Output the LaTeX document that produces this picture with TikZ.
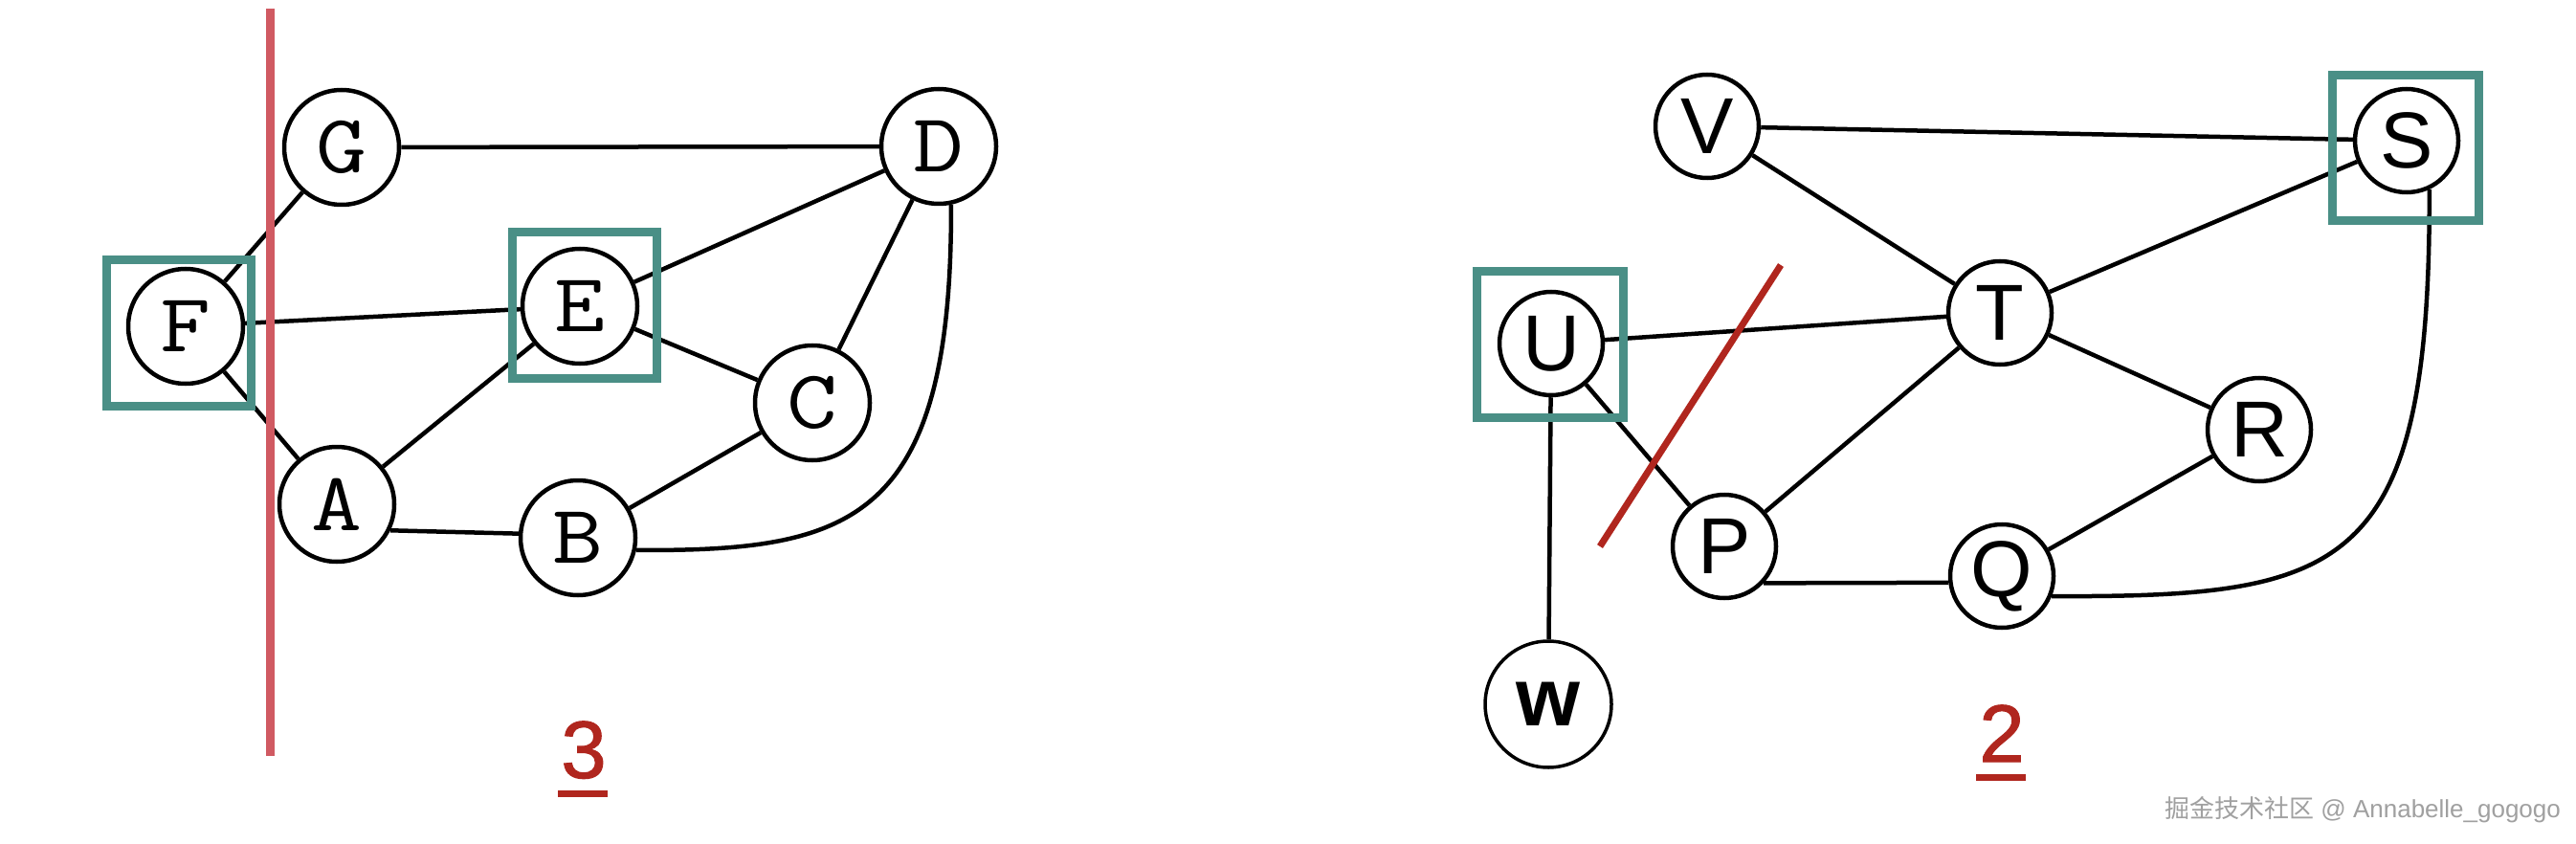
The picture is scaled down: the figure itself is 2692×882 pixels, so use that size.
\documentclass[tikz,border=0pt]{standalone}
\usepackage{fontspec}
\usepackage{graphicx}
\setmainfont{Liberation Sans}
\newfontfamily\cjk{Noto Sans CJK SC}
\newfontfamily\numfont[FakeBold=1.2]{Liberation Sans}
\newcommand{\wideletter}[1]{\scalebox{1.18}[1]{#1}}
\definecolor{teal}{HTML}{4A8F86}
\definecolor{cutpink}{HTML}{D05A62}
\definecolor{cutred}{HTML}{B0261E}
\definecolor{wmgray}{HTML}{A0A0A0}
\tikzset{
  lnode/.style={circle, draw=black, line width=4.5pt, fill=white, inner sep=0pt,
    minimum size=120pt, font=\ttfamily\fontsize{87}{87}\selectfont},
  rnode/.style={circle, draw=black, line width=4.5pt, fill=white, inner sep=0pt,
    minimum size=108pt, font=\fontsize{83}{83}\selectfont},
  edge/.style={draw=black, line width=4.5pt},
  selbox/.style={draw=teal, line width=9pt},
  numlabel/.style={text=cutred, font=\numfont\fontsize{85}{85}\selectfont, inner sep=0pt}
}
\begin{document}
\begin{tikzpicture}[x=1pt,y=-1pt]
\useasboundingbox (0,0) rectangle (2692,882);
\fill[white] (0,0) rectangle (2692,882);

% ---------- left graph ----------
\node[lnode] (G) at (357,154) {\wideletter{G}};
\node[lnode] (D) at (981,153) {\wideletter{D}};
\node[lnode] (F) at (194,341) {\wideletter{F}};
\node[lnode] (E) at (606,320) {\wideletter{E}};
\node[lnode] (C) at (849,421) {\wideletter{C}};
\node[lnode] (A) at (352,527) {\wideletter{A}};
\node[lnode] (B) at (604,562) {\wideletter{B}};

\draw[edge] (F) -- (G);
\draw[edge] (F) -- (E);
\draw[edge] (F) -- (A);
\draw[edge] (G) -- (D);
\draw[edge] (E) -- (D);
\draw[edge] (E) -- (C);
\draw[edge] (E) -- (A);
\draw[edge] (D) -- (C);
\draw[edge] (C) -- (B);
\draw[edge] (A.-26) -- (B.176);
\draw[edge] (B.-12) .. controls (888,576) and (995,548) .. (D.-78);

\draw[selbox] (111,272) rectangle (262,424);
\draw[selbox] (535,243) rectangle (686,395);
\draw[draw=cutpink, line width=9pt] (282,9) -- (282,790);

\node[numlabel, anchor=base] (n3) at (610,813) {3};
\draw[draw=cutred, line width=7pt] (583,829) -- (635,829);

% ---------- right graph ----------
\node[rnode] (V) at (1784,132) {V};
\node[rnode] (S) at (2515,147) {S};
\node[rnode] (U) at (1621,359) {U};
\node[rnode] (T) at (2090,327) {T};
\node[rnode] (R) at (2361,449) {R};
\node[rnode] (P) at (1802,571) {P};
\node[rnode] (Q) at (2092,602) {Q};
\node[rnode, minimum size=132pt, line width=3.5pt, font=\bfseries\fontsize{86}{86}\selectfont] (W) at (1618,736) {w};

\draw[edge] (V) -- (S);
\draw[edge] (V) -- (T);
\draw[edge] (T) -- (S);
\draw[edge] (U) -- (T);
\draw[edge] (U) -- (P);
\draw[edge] (U) -- (W);
\draw[edge] (T) -- (P);
\draw[edge] (T) -- (R);
\draw[edge] (R) -- (Q);
\draw[edge] (P.-43) -- (Q.187);
\draw[edge] (Q.-22) .. controls (2450,624) and (2540,600) .. (S.-65);

\draw[selbox] (2437,79) rectangle (2590,231);
\draw[selbox] (1543,284) rectangle (1696,436);
\draw[draw=cutred, line width=7pt] (1861,277) -- (1672,571);

\node[numlabel, anchor=base] (n2) at (2092,796) {2};
\draw[draw=cutred, line width=7pt] (2065,812) -- (2117,812);

\node[anchor=base west, text=wmgray, inner sep=0pt, font=\fontsize{26}{26}\selectfont] (wm) at (2262,854) {{\cjk 掘金技术社区} @ Annabelle\_gogogo};
\end{tikzpicture}
\end{document}
